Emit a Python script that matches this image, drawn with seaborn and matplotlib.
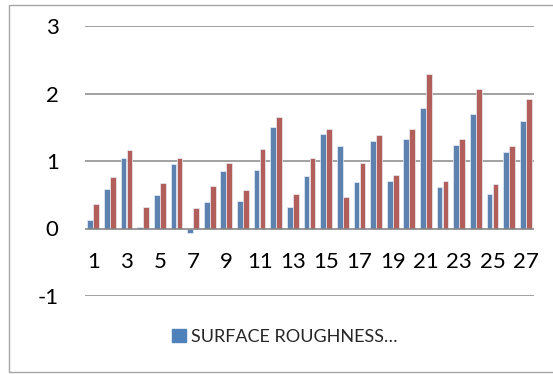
import matplotlib
matplotlib.use("Agg")
import matplotlib.pyplot as plt
import seaborn as sns
import pandas as pd
from matplotlib.patches import Rectangle, Patch

# Sample numbers 1..27 and the two measured series
samples = list(range(1, 28))
roughness = [0.12, 0.58, 1.04, 0.025, 0.49, 0.95, -0.07, 0.39, 0.85, 0.41,
             0.87, 1.50, 0.32, 0.78, 1.40, 1.22, 0.69, 1.30, 0.70, 1.32,
             1.79, 0.61, 1.23, 1.69, 0.51, 1.13, 1.59]
second = [0.36, 0.76, 1.17, 0.32, 0.68, 1.05, 0.30, 0.63, 0.97, 0.57,
          1.18, 1.65, 0.51, 1.05, 1.475, 0.47, 0.975, 1.38, 0.79, 1.475,
          2.29, 0.71, 1.32, 2.06, 0.66, 1.22, 1.92]
series_names = ["SURFACE ROUGHNESS\u2026", "Series 2"]
y_ticks = [-1, 0, 1, 2, 3]
x_tick_labels = [str(s) for s in samples[::2]]

df = pd.DataFrame({
    "sample": [str(s) for s in samples] * 2,
    "value": roughness + second,
    "series": [series_names[0]] * len(samples) + [series_names[1]] * len(samples),
})

sns.set_theme(style="white")
plt.rcParams["font.family"] = ["Lato", "DejaVu Sans"]

blue = "#4F81BD"
red = "#C0504D"
grid_grey = "#878787"

fig = plt.figure(figsize=(5.53, 3.74), dpi=100)
ax = fig.add_axes([85 / 553, 1 - 296 / 374, (534 - 85) / 553, (296 - 26) / 374])

sns.barplot(data=df, x="sample", y="value", hue="series",
            palette=[blue, red], width=0.72, gap=0.04,
            edgecolor="#E8EEF6", linewidth=0.5, legend=False, ax=ax)

ax.set_ylim(-1, 3)
ax.set_xlim(-0.5, len(samples) - 0.5)
ax.set_yticks(y_ticks)
ax.set_yticklabels([str(t) for t in y_ticks])
ax.set_xticks(range(0, len(samples), 2))
ax.set_xticklabels(x_tick_labels)
ax.set_xlabel("")
ax.set_ylabel("")

# gridlines behind the bars, category axis line on top at zero
for y in y_ticks:
    if y == 0:
        ax.axhline(y, color=grid_grey, lw=1.2, zorder=3)
    else:
        ax.axhline(y, color=grid_grey, lw=1.1, zorder=0)

for side in ["top", "right", "left"]:
    ax.spines[side].set_visible(False)
ax.spines["bottom"].set_position(("data", 0))
ax.spines["bottom"].set_visible(False)

ax.tick_params(axis="x", length=0, pad=17, labelsize=16, colors="#000000")
ax.tick_params(axis="y", length=0, pad=19, labelsize=16, colors="#000000")

# legend with the first series only
handle = Patch(facecolor=blue, edgecolor=blue)
fig.legend([handle], [series_names[0]], loc="center",
           bbox_to_anchor=(285 / 553, 1 - 337 / 374), frameon=False,
           fontsize=13, handlelength=0.75, handleheight=0.75,
           handletextpad=0.3, borderpad=0)

# chart border
fig.patches.append(Rectangle((8.5 / 553, 2.5 / 374), 1.2, (369.5 - 2.5) / 374,
                             transform=fig.transFigure, fill=False,
                             edgecolor="#A6A6A6", lw=1.0))

fig.savefig("out.png", dpi=100)
